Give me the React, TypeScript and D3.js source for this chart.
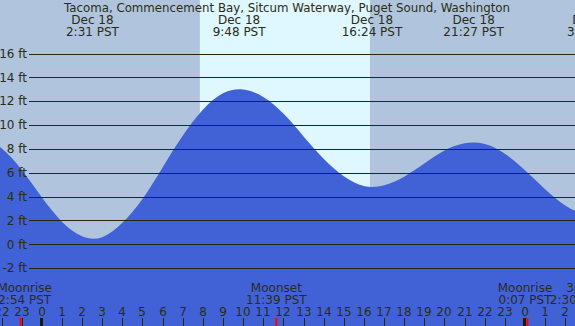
import React from 'react';
import * as d3 from 'd3';

const tideHours = [-3, -2, -1, 0, 1, 2, 3, 4, 5, 6, 7, 8, 9, 10, 11, 12, 13, 14, 15, 16, 17, 18, 19, 20, 21, 22, 23, 24, 25, 26, 27, 28];
const tideHeights = [9.04, 8.05, 6.25, 3.95, 1.9, 0.68, 0.6, 1.8, 3.8, 6.45, 9.1, 11.28, 12.66, 12.98, 12.35, 10.96, 9.05, 7.18, 5.7, 4.89, 4.95, 5.67, 6.77, 7.86, 8.48, 8.42, 7.6, 6.2, 4.62, 3.25, 2.55, 2.6];

// high / low tide labels along the top
const extremeHours = [2.517, 9.8, 16.4, 21.45, 27.4];
const extremeDates = ['Dec 18', 'Dec 18', 'Dec 18', 'Dec 18', 'Dec 19'];
const extremeTimes = ['2:31 PST', '9:48 PST', '16:24 PST', '21:27 PST', '3:20 PST'];

// moon events along the bottom
const moonHours = [-0.85, 11.65, 24.0, 26.55];
const moonNames = ['Moonrise', 'Moonset', 'Moonrise', '3rd'];
const moonTimes = ['2:54 PST', '11:39 PST', '0:07 PST', '2:30 PST'];
const moonTickHours = [-1.05, 11.65, 24.117];

const sunrise = 7.85;
const sunset = 16.3;

const ftTicks = [-2, 0, 2, 4, 6, 8, 10, 12, 14, 16];
const hourTicks = d3.range(-2, 28);

const W = 575;
const H = 326;
const FONT = '"DejaVu Sans", sans-serif';
const TXT = '#2c2c12';

export default function App() {
  const x = d3.scaleLinear().domain([0, 24]).range([41.8, 525]);
  const y = d3.scaleLinear().domain([0, 16]).range([244.3, 53.5]);

  const pts = tideHours.map((h, i) => [h, tideHeights[i]] as [number, number]);
  const area = d3.area<[number, number]>()
    .x(d => x(d[0]))
    .y0(H)
    .y1(d => y(d[1]))
    .curve(d3.curveNatural);

  return (
    <svg width={W} height={H} style={{ position: 'absolute', left: 0, top: 0, display: 'block' }}
      fontFamily={FONT}>
      <rect x={0} y={0} width={W} height={H} fill="#b0c4de" />
      <rect x={x(sunrise)} y={0} width={x(sunset) - x(sunrise)} height={H} fill="#dff7ff" />
      <path d={area(pts) || ''} fill="#4162d6" />

      {ftTicks.map(f => (
        <g key={f}>
          <line x1={29} x2={W} y1={Math.round(y(f)) + 0.5} y2={Math.round(y(f)) + 0.5} stroke="#26260e" strokeWidth={1.2} />
          <text x={27} y={y(f)} dy="0.35em" textAnchor="end" fontSize={12} fill={TXT}>{`${f} ft`}</text>
        </g>
      ))}

      <text x={287} y={12} textAnchor="middle" fontSize={11.8} fill={TXT}>
        Tacoma, Commencement Bay, Sitcum Waterway, Puget Sound, Washington
      </text>
      {extremeHours.map((h, i) => (
        <g key={i}>
          <text x={x(h)} y={24} textAnchor="middle" fontSize={12} fill={TXT}>{extremeDates[i]}</text>
          <text x={x(h)} y={36} textAnchor="middle" fontSize={12} fill={TXT}>{extremeTimes[i]}</text>
        </g>
      ))}

      {moonHours.map((h, i) => (
        <g key={i}>
          <text x={x(h)} y={292} textAnchor="middle" fontSize={12} fill={TXT}>{moonNames[i]}</text>
          <text x={x(h)} y={304} textAnchor="middle" fontSize={12} fill={TXT}>{moonTimes[i]}</text>
        </g>
      ))}

      {hourTicks.map(h => {
        const hh = ((h % 24) + 24) % 24;
        const xx = Math.round(x(h));
        return (
          <g key={h}>
            <text x={xx} y={316} textAnchor="middle" fontSize={12} fill={TXT}>{hh}</text>
            <line x1={hh === 0 ? xx - 0.5 : xx + 0.5} x2={hh === 0 ? xx - 0.5 : xx + 0.5} y1={318} y2={H}
              stroke={hh === 0 ? '#1a1a08' : '#26260e'} strokeWidth={hh === 0 ? 3 : 1} />
          </g>
        );
      })}
      {moonTickHours.map((h, i) => (
        <line key={i} x1={x(h)} x2={x(h)} y1={318} y2={H} stroke="#ff0000" strokeWidth={2} />
      ))}
    </svg>
  );
}
